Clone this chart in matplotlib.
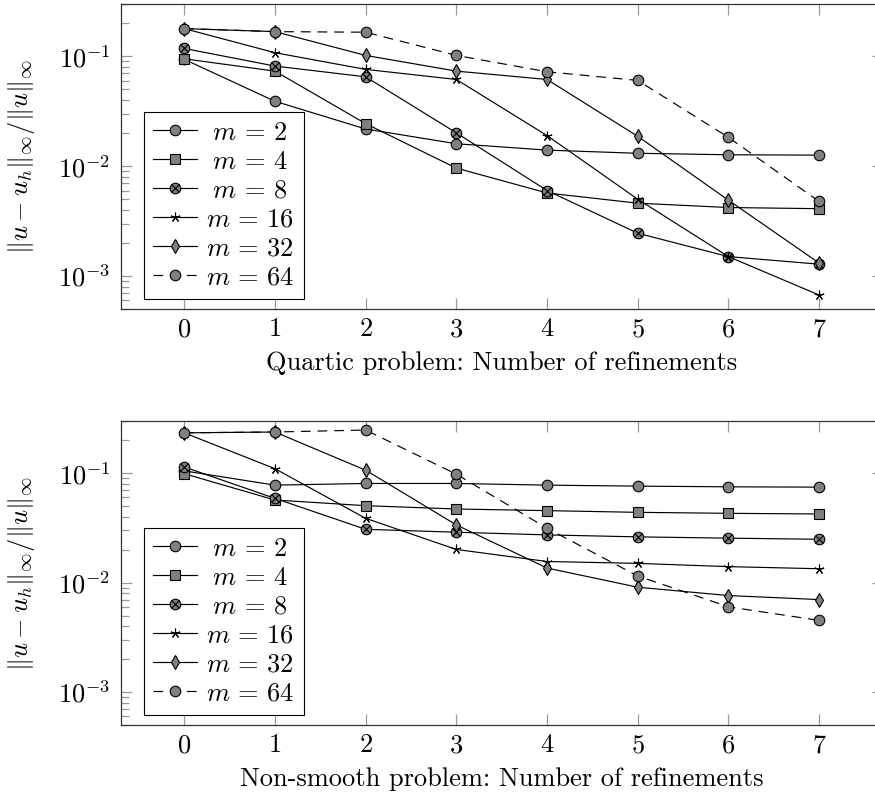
import matplotlib
matplotlib.use("Agg")
import matplotlib.pyplot as plt
from matplotlib.legend_handler import HandlerTuple
from matplotlib.ticker import FixedLocator, FixedFormatter, LogLocator, NullFormatter

plt.rcParams.update({
    "font.family": "serif",
    "font.serif": ["cmr10"],
    "mathtext.fontset": "cm",
    "axes.formatter.use_mathtext": True,
    "font.size": 19,
    "lines.scale_dashes": False,
})

refinements = [0, 1, 2, 3, 4, 5, 6, 7]
m_values = [2, 4, 8, 16, 32, 64]

# quartic problem, relative max-norm error
quartic_m2 = [0.094, 0.039, 0.0218, 0.016, 0.014, 0.0131, 0.0127, 0.0126]
quartic_m4 = [0.095, 0.0734, 0.0244, 0.0096, 0.0057, 0.0046, 0.0042, 0.0041]
quartic_m8 = [0.118, 0.0816, 0.0651, 0.0201, 0.0060, 0.00245, 0.0015, 0.00128]
quartic_m16 = [0.179, 0.108, 0.0761, 0.0616, 0.019, 0.0050, 0.0015, 0.00067]
quartic_m32 = [0.179, 0.168, 0.102, 0.0734, 0.0616, 0.0187, 0.0049, 0.00131]
quartic_m64 = [0.179, 0.168, 0.166, 0.102, 0.0724, 0.0604, 0.0183, 0.00477]

# non-smooth problem
nonsmooth_m2 = [0.105, 0.0778, 0.0806, 0.0806, 0.0778, 0.0762, 0.0751, 0.0746]
nonsmooth_m4 = [0.099, 0.0569, 0.0505, 0.0471, 0.0455, 0.0439, 0.0430, 0.0424]
nonsmooth_m8 = [0.114, 0.0589, 0.0307, 0.0289, 0.0273, 0.0262, 0.0255, 0.0249]
nonsmooth_m16 = [0.234, 0.110, 0.0387, 0.0201, 0.0156, 0.0150, 0.0140, 0.0134]
nonsmooth_m32 = [0.234, 0.238, 0.1066, 0.0337, 0.0136, 0.00908, 0.00762, 0.00700]
nonsmooth_m64 = [0.234, 0.238, 0.248, 0.098, 0.0314, 0.0115, 0.00601, 0.00452]

GRAY = "#808080"
TICK = "#9a9a9a"
STYLES = [
    dict(marker="o", ms=7.6, mfc=GRAY, ls="-"),
    dict(marker="s", ms=7.0, mfc=GRAY, ls="-"),
    dict(marker="o", ms=7.6, mfc=GRAY, ls="-"),      # circle with x on top
    dict(marker=(5, 2, 0), ms=7.0, mfc="none", ls="-"),
    dict(marker="d", ms=6.8, mfc=GRAY, ls="-"),
    dict(marker="o", ms=7.6, mfc=GRAY, ls=(0, (7, 5))),
]


def _draw(ax, series, xlabel):
    handles = []
    for m, err, st in zip(m_values, series, STYLES):
        line, = ax.plot(refinements, err, color="black", lw=0.85, ls=st["ls"],
                        marker=st["marker"], ms=st["ms"], mfc=st["mfc"],
                        mec="black", mew=0.8)
        if m == 8:
            cross, = ax.plot(refinements, err, ls="none", marker="x", ms=5.2,
                             color="black", mew=0.8)
            handles.append((line, cross))
        else:
            handles.append(line)

    ax.set_yscale("log")
    ax.set_xlim(-0.7, 7.7)
    ax.set_ylim(5e-4, 0.3)
    ax.xaxis.set_major_locator(FixedLocator(refinements))
    ax.yaxis.set_major_locator(FixedLocator([1e-3, 1e-2, 1e-1]))
    ax.yaxis.set_major_formatter(FixedFormatter([r"$10^{-3}$", r"$10^{-2}$", r"$10^{-1}$"]))
    ax.yaxis.set_minor_locator(LogLocator(base=10, subs=range(2, 10)))
    ax.yaxis.set_minor_formatter(NullFormatter())
    ax.tick_params(which="both", direction="in", top=True, right=True,
                   color=TICK, width=0.9)
    ax.tick_params(which="major", length=8)
    ax.tick_params(which="minor", length=5.5)
    ax.tick_params(axis="x", pad=6)
    ax.tick_params(axis="y", pad=7.5)
    for sp in ax.spines.values():
        sp.set_color("#333333")
        sp.set_linewidth(0.9)

    ax.set_ylabel(r"$\|u-u_h\|_\infty/\|u\|_\infty$")
    ax.yaxis.set_label_coords(-0.11, 0.5)
    ax.set_xlabel(xlabel, va="top")
    ax.xaxis.set_label_coords(0.5, -0.138)

    labels = [(r"$\;m\,=\,%d$" if m < 10 else r"$m\,=\,%d$") % m for m in m_values]
    leg = ax.legend(handles, labels, loc="lower left", bbox_to_anchor=(0.0306, 0.033),
                    borderaxespad=0, handler_map={tuple: HandlerTuple(ndivide=1)},
                    fancybox=False, framealpha=1, edgecolor="black",
                    handlelength=1.65, handletextpad=0.35, labelspacing=0.2,
                    borderpad=0.35)
    leg.get_frame().set_linewidth(0.8)


fig = plt.figure(figsize=(8.75, 7.96), dpi=100)
ax_top = fig.add_axes([0.138, 0.6118, 0.8707, 0.3832])
ax_bot = fig.add_axes([0.138, 0.0892, 0.8707, 0.3819])

_draw(ax_top, [quartic_m2, quartic_m4, quartic_m8, quartic_m16, quartic_m32, quartic_m64],
      "Quartic problem: Number of refinements")
_draw(ax_bot, [nonsmooth_m2, nonsmooth_m4, nonsmooth_m8, nonsmooth_m16, nonsmooth_m32,
               nonsmooth_m64],
      "Non-smooth problem: Number of refinements")

fig.savefig("out.png", dpi=100)
